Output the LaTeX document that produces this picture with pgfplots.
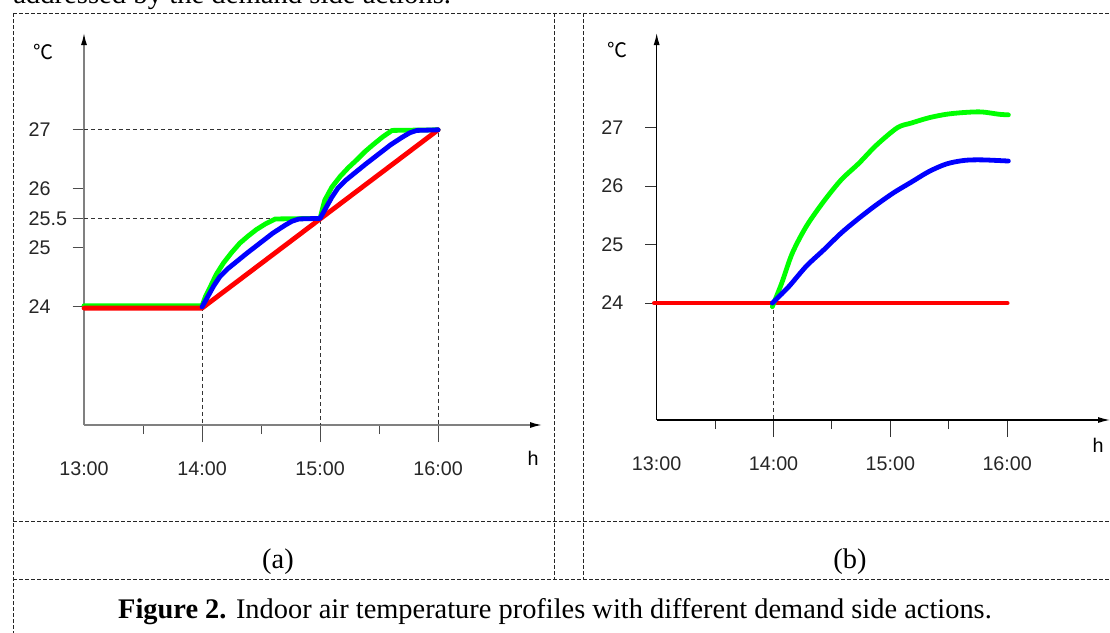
\documentclass[border=0pt]{standalone}
\usepackage{fontspec}
\setmainfont{Liberation Serif}
\setsansfont{Liberation Sans}
\newfontfamily\cjk{Noto Sans CJK SC}
\usepackage{pgfplots}
\pgfplotsset{compat=1.18}
\usetikzlibrary{arrows.meta}

\definecolor{pgreen}{RGB}{0,255,0}
\definecolor{pblue}{RGB}{0,0,255}
\definecolor{pred}{RGB}{255,0,0}
\definecolor{axgray}{RGB}{128,128,128}

\tikzset{refline/.style={black!80, line width=0.75pt, dash pattern=on 3pt off 2.25pt}}

% one style for both panels, positions in px*0.75pt
\pgfplotsset{
  tempaxis/.style={
    scale only axis, anchor=south west, clip=false,
    axis lines=left,
    axis line style={-{Latex[length=9pt,width=4.5pt,black]}},
    xmin=13, xmax=16.88, ymin=22,
    xtick={14,15,16}, xticklabels={14:00,15:00,16:00},
    extra x ticks={13}, extra x tick labels={13:00},
    extra x tick style={tick style={draw=none}},
    minor xtick={13.5,14.5,15.5},
    tick align=outside,
    major tick length=8.5pt, minor tick length=6.75pt,
    xtick style={/pgfplots/major tick length=12.75pt},
    ticklabel style={font=\fontsize{14.8}{16}\selectfont\sffamily, text=black!85},
    /pgf/number format/assume math mode=true,
    yticklabel style={anchor=west, xshift=-36.5pt},
    xticklabel style={anchor=base, yshift=-29.25pt},
    every axis plot/.append style={line width=3.6pt, line join=round, line cap=round},
  },
}

\begin{document}
\begin{tikzpicture}
\useasboundingbox (0,0) rectangle (832.5pt,-474pt);
\clip (0,0) rectangle (832.5pt,-474pt);

% (a)
\begin{axis}[tempaxis,
  at={(63pt,-318.75pt)}, width=343.5pt, height=294pt, ymax=28.64,
  ytick={24,25,25.5,26,27},
  axis line style={axgray, line width=1.1pt},
  tick style={black!70, line width=0.75pt},
]
\draw[refline] (axis cs:13,27) -- (axis cs:16,27) -- (axis cs:16,22);
\draw[refline] (axis cs:13,25.5) -- (axis cs:15,25.5) -- (axis cs:15,22);
\draw[refline] (axis cs:14,24) -- (axis cs:14,22);
\addplot[pgreen] coordinates {
 (13,24.02) (14,24.02)
 (14.03,24.18) (14.07,24.34) (14.12,24.55) (14.18,24.74) (14.25,24.92)
 (14.32,25.08) (14.39,25.20) (14.46,25.31) (14.54,25.41) (14.62,25.49)
 (15,25.5)
 (15.02,25.66) (15.04,25.81) (15.10,26.03) (15.17,26.21) (15.24,26.36)
 (15.31,26.49) (15.38,26.63) (15.45,26.75) (15.53,26.88) (15.61,26.99)
 (16,27)};
\addplot[pred] coordinates {(13,23.98) (14,23.98) (16,27)};
\addplot[pblue] coordinates {
 (14,24) (14.05,24.18) (14.10,24.36) (14.15,24.51) (14.22,24.65)
 (14.30,24.78) (14.38,24.91) (14.49,25.08) (14.60,25.25) (14.70,25.38)
 (14.76,25.45) (14.82,25.49) (15,25.5)
 (15.05,25.68) (15.10,25.86) (15.15,26.01) (15.22,26.15) (15.30,26.28)
 (15.38,26.41) (15.49,26.58) (15.60,26.75) (15.70,26.88) (15.76,26.95)
 (15.82,26.99) (16,27)};
\end{axis}

% (b)
\begin{axis}[tempaxis,
  at={(492.5pt,-315pt)}, width=340pt, height=290.25pt, ymax=28.62,
  ytick={24,25,26,27},
  axis line style={black, line width=0.9pt},
  tick style={black!80, line width=0.75pt},
]
\draw[refline] (axis cs:14,24) -- (axis cs:14,22);
\addplot[pred] coordinates {(12.98,24) (16,24)};
\addplot[pgreen, smooth, tension=0.5] coordinates {
 (13.99,23.94) (14.07,24.34) (14.16,24.85) (14.28,25.31) (14.43,25.74)
 (14.58,26.11) (14.73,26.39) (14.88,26.70) (15.06,27.00) (15.18,27.08)
 (15.33,27.17) (15.48,27.23) (15.63,27.26) (15.78,27.27) (15.93,27.23)
 (16.01,27.22)};
\addplot[pblue, smooth, tension=0.5] coordinates {
 (13.99,24.0) (14.13,24.28) (14.28,24.63) (14.43,24.91) (14.58,25.20)
 (14.73,25.45) (14.88,25.68) (15.03,25.89) (15.18,26.07) (15.33,26.25)
 (15.48,26.38) (15.63,26.44) (15.78,26.45) (16.01,26.43)};
\end{axis}

\begin{scope}[x=0.75pt, y=-0.75pt]
% unit labels
\node[font=\cjk\fontsize{15}{15}\selectfont] at (43,52) {℃};
\node[font=\cjk\fontsize{15}{15}\selectfont] at (617,50) {℃};
\node[font=\fontsize{14.8}{16}\selectfont\sffamily] at (533,458) {h};
\node[font=\fontsize{14.8}{16}\selectfont\sffamily] at (1098,445) {h};
% table frame
\begin{scope}[black!85, line width=0.75pt, dash pattern=on 3pt off 1.5pt]
\draw (13,13) -- (1112,13);
\draw (13,13) -- (13,634);
\draw (554,13) -- (554,579);
\draw (583,13) -- (583,579);
\draw (13,521) -- (1112,521);
\draw (13,579) -- (1112,579);
\end{scope}
% text
\node[anchor=base west, inner sep=0, font=\fontsize{21.5}{24}\selectfont] at (13,3) {addressed by the demand side actions.};
\node[font=\fontsize{21.3}{24}\selectfont] at (278,562) {(a)};
\node[font=\fontsize{21.3}{24}\selectfont] at (850,562) {(b)};
\node[font=\fontsize{21.3}{24}\selectfont] at (555,612) {\textbf{Figure 2.} Indoor air temperature profiles with different demand side actions.};
\end{scope}
\end{tikzpicture}
\end{document}
